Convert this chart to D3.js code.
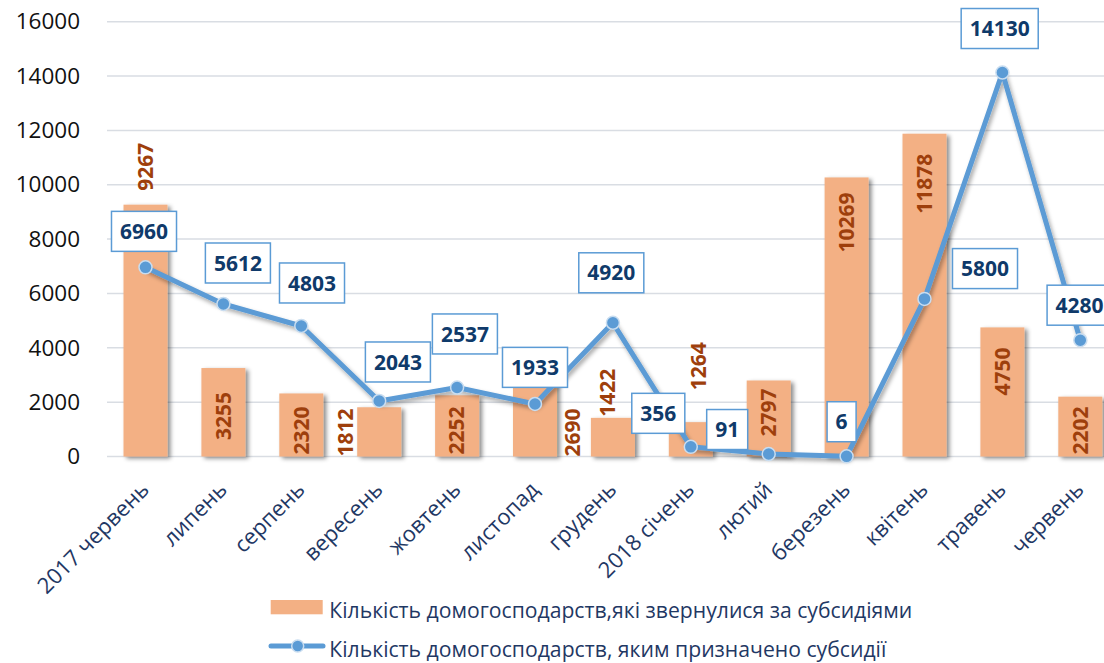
<!DOCTYPE html>
<html><head><meta charset="utf-8">
<script src="https://cdn.jsdelivr.net/npm/d3@7"></script>
<style>body{margin:0;background:#fff}svg{display:block}</style>
</head><body><svg id="c" width="1104" height="663"></svg>
<script>
// ---- data ----
const categories = ["2017 червень","липень","серпень","вересень","жовтень","листопад","грудень","2018 січень","лютий","березень","квітень","травень","червень"];
const applied = [9267,3255,2320,1812,2252,2690,1422,1264,2797,10269,11878,4750,2202];
const granted = [6960,5612,4803,2043,2537,1933,4920,356,91,6,5800,14130,4280];
const yTicks = [0,2000,4000,6000,8000,10000,12000,14000,16000];
const seriesNames = ["Кількість домогосподарств,які звернулися за субсидіями","Кількість домогосподарств, яким призначено субсидії"];

// ---- layout / style ----
const W = 1104, H = 663;
const barColor = "#F3B084", lineColor = "#5B9BD5";
const barLabelColor = "#9E3F0C", boxTextColor = "#0F3A6A", axisTextColor = "#1F3864";
const barLabelPlace = [
  {m:"above",gap:14,dx:0},{m:"inside",pad:24},{m:"inside"},{m:"side",dx:-34},{m:"inside"},
  {m:"side",dx:37.5},{m:"above",gap:1,dx:-5},{m:"above",gap:32,dx:8},{m:"inside",pad:8},
  {m:"inside",pad:15},{m:"inside",pad:20},{m:"inside",pad:20},{m:"inside"}];
const boxNudge = [[-1.5,-36],[14.5,-41],[10.7,-43],[18.7,-39],[7.8,-53.6],[0,-36.6],[-1.6,-50],
  [-32.5,-33.5],[-41.5,-24.5],[-5,-34.6],[60.5,-30.3],[-2.7,-44],[-0.7,-35]];

const svg = d3.select("#c");
const defs = svg.append("defs");
const f = defs.append("filter").attr("id","sh").attr("x","-30%").attr("y","-30%").attr("width","170%").attr("height","170%");
f.append("feDropShadow").attr("dx",3).attr("dy",2).attr("stdDeviation",2).attr("flood-color","#000").attr("flood-opacity",0.45);
const f2 = defs.append("filter").attr("id","sh2").attr("x","-10%").attr("y","-10%").attr("width","130%").attr("height","130%");
f2.append("feDropShadow").attr("dx",2).attr("dy",3).attr("stdDeviation",2).attr("flood-color","#000").attr("flood-opacity",0.35);

const x = d3.scaleBand().domain(categories).range([106.55, 1119.25]).paddingInner(0.435).paddingOuter(0.2175);
const y = d3.scaleLinear().domain([0,16000]).range([456.5, 21.7]);
const cx = d => x(d) + x.bandwidth()/2;

// gridlines
svg.append("g").selectAll("line").data(yTicks).join("line")
  .attr("x1",107).attr("x2",W).attr("y1",d=>y(d)).attr("y2",d=>y(d))
  .attr("stroke","#D9DDE3").attr("stroke-width",1.5);

// y axis labels
const yAxis = d3.axisLeft(y).tickValues(yTicks).tickSize(0).tickPadding(0).tickFormat(d3.format("d"));
const yg = svg.append("g").attr("transform","translate(80,0)").call(yAxis);
yg.select(".domain").remove();
yg.selectAll("text").attr("font-family","Open Sans").attr("font-size",22.5).attr("fill","#111");

// bars
svg.append("g").selectAll("rect").data(applied).join("rect")
  .attr("x",(d,i)=>x(categories[i])).attr("width",x.bandwidth())
  .attr("y",d=>y(d)).attr("height",d=>y(0)-y(d))
  .attr("fill",barColor).attr("filter","url(#sh)");

// bar labels
const bl = svg.append("g");
applied.forEach((v,i)=>{
  const p = barLabelPlace[i];
  const t = bl.append("text").text(v)
    .attr("font-family","Open Sans").attr("font-weight",700).attr("font-size",21)
    .attr("fill",barLabelColor).attr("text-anchor","start").attr("dy","0.35em");
  const len = t.node().getComputedTextLength();
  const top = y(v), base = y(0);
  let bx = cx(categories[i]), bottom;
  if (p.m === "above") { bottom = top - p.gap; bx += p.dx; }
  else if (p.m === "side") { bottom = base; bx += p.dx; }
  else { const pad = p.pad ?? 18; bottom = Math.min(top + pad + len, base - 2); }
  t.attr("transform",`translate(${bx},${bottom}) rotate(-90)`);
});

// line
const pts = granted.map((v,i)=>[cx(categories[i]), y(v)]);
svg.append("path").datum(pts).attr("d",d3.line())
  .attr("fill","none").attr("stroke",lineColor).attr("stroke-width",5)
  .attr("stroke-linejoin","round").attr("filter","url(#sh2)");
svg.append("g").selectAll("circle").data(pts).join("circle")
  .attr("cx",d=>d[0]).attr("cy",d=>d[1]).attr("r",6.5)
  .attr("fill",lineColor).attr("stroke","#C9DDF0").attr("stroke-width",1.5);

// line labels (boxed)
const lb = svg.append("g");
granted.forEach((v,i)=>{
  const g = lb.append("g");
  const bxc = pts[i][0] + boxNudge[i][0], byc = pts[i][1] + boxNudge[i][1];
  const r = g.append("rect");
  const t = g.append("text").text(v).attr("x",bxc).attr("y",byc).attr("dy","0.36em")
    .attr("text-anchor","middle").attr("font-family","Open Sans").attr("font-weight",700)
    .attr("font-size",21).attr("fill",boxTextColor);
  const w = t.node().getComputedTextLength() + 17;
  r.attr("x",bxc-w/2).attr("y",byc-20).attr("width",w).attr("height",40)
    .attr("fill","#fff").attr("stroke",lineColor).attr("stroke-width",1.5);
});

// x axis labels
const xl = svg.append("g");
categories.forEach((c,i)=>{
  xl.append("text").text(c)
    .attr("transform",`translate(${cx(c)+5},${491}) rotate(-45)`)
    .attr("text-anchor","end").attr("font-family","Open Sans").attr("font-size",22)
    .attr("fill",axisTextColor);
});

// legend
const lg = svg.append("g");
lg.append("rect").attr("x",270.7).attr("y",600).attr("width",52).attr("height",14.3).attr("fill",barColor);
lg.append("text").text(seriesNames[0]).attr("x",329.3).attr("y",617.7)
  .attr("font-family","Open Sans").attr("font-size",21).attr("fill",axisTextColor)
  .attr("textLength",583).attr("lengthAdjust","spacingAndGlyphs");
lg.append("line").attr("x1",271).attr("x2",323).attr("y1",646).attr("y2",646)
  .attr("stroke",lineColor).attr("stroke-width",5).attr("stroke-linecap","round");
lg.append("circle").attr("cx",297.7).attr("cy",646).attr("r",6).attr("fill",lineColor).attr("stroke","#C9DDF0").attr("stroke-width",1.5);
lg.append("text").text(seriesNames[1]).attr("x",329.3).attr("y",656.7)
  .attr("font-family","Open Sans").attr("font-size",21).attr("fill",axisTextColor)
  .attr("textLength",557).attr("lengthAdjust","spacingAndGlyphs");
</script></body></html>
